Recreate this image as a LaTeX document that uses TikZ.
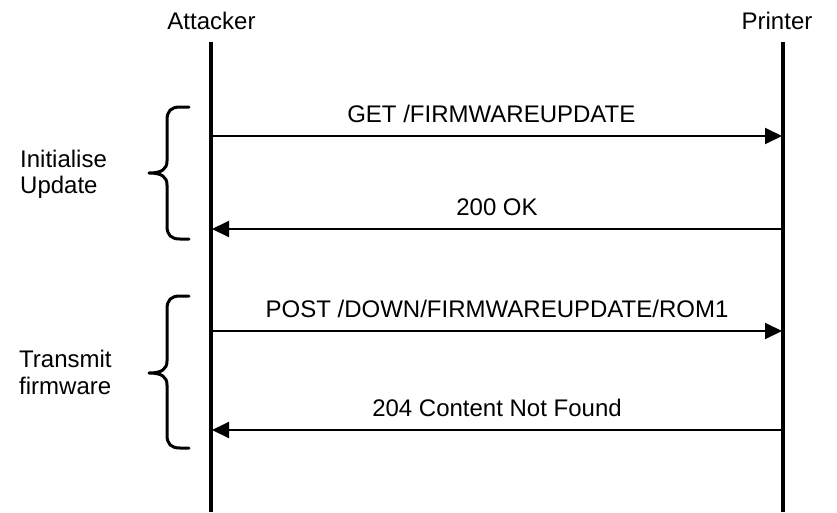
\documentclass[tikz,border=0pt]{standalone}
\usepackage{fontspec}
\setmainfont{Liberation Sans}
\usetikzlibrary{arrows.meta}
\tikzset{
  txt/.style={inner sep=0pt, font=\fontsize{24}{28}\selectfont},
  head/.style={txt, anchor=base},
  lbl/.style={txt, anchor=base west},
  lifeline/.style={line width=3.5pt},
  msg/.style={line width=2pt, -{Triangle[length=17pt,width=16pt]}},
  msglabel/.style={txt, anchor=base, yshift=13.5pt},
  curly/.style={line width=3pt, line cap=round, line join=round}
}
\begin{document}
\begin{tikzpicture}[x=1pt,y=-1pt]
\useasboundingbox (0,0) rectangle (837,512);
% headers
\node[head] (att) at (211.5,29) {Attacker};
\node[head] (prt) at (777,29) {Printer};
% lifelines
\coordinate (attTop) at (211,42);
\coordinate (attBot) at (211,512);
\coordinate (prtTop) at (783,42);
\coordinate (prtBot) at (783,512);
\draw[lifeline] (attTop) -- (attBot);
\draw[lifeline] (prtTop) -- (prtBot);
% message endpoints
\coordinate (a1) at (212,136); \coordinate (p1) at (782,136);
\coordinate (a2) at (212,229); \coordinate (p2) at (782,229);
\coordinate (a3) at (212,331); \coordinate (p3) at (782,331);
\coordinate (a4) at (212,430); \coordinate (p4) at (782,430);
\draw[msg] (a1) -- (p1) node[msglabel, pos=0.49] (m1) {GET /FIRMWAREUPDATE};
\draw[msg] (p2) -- (a2) node[msglabel, pos=0.5] (m2) {200 OK};
\draw[msg] (a3) -- (p3) node[msglabel, pos=0.5] (m3) {POST /DOWN/FIRMWAREUPDATE/ROM1};
\draw[msg] (p4) -- (a4) node[msglabel, pos=0.5] (m4) {204 Content Not Found};
% braces
\draw[curly] (189,107) -- (180,107) .. controls (171,107) and (167,111) .. (167,120)
  -- (167,161) .. controls (167,169) and (162,173) .. (149,173)
  .. controls (162,173) and (167,177) .. (167,185)
  -- (167,226) .. controls (167,235) and (171,239) .. (180,239) -- (189,239);
\draw[curly] (189,296) -- (180,296) .. controls (171,296) and (167,300) .. (167,309)
  -- (167,361) .. controls (167,369) and (162,373) .. (149,373)
  .. controls (162,373) and (167,377) .. (167,385)
  -- (167,435) .. controls (167,444) and (171,448) .. (180,448) -- (189,448);
% group labels
\node[lbl] (g1a) at (20,167) {Initialise};
\node[lbl] (g1b) at (20,193) {Update};
\node[lbl] (g2a) at (19,367) {Transmit};
\node[lbl] (g2b) at (19,394) {firmware};
\end{tikzpicture}
\end{document}
